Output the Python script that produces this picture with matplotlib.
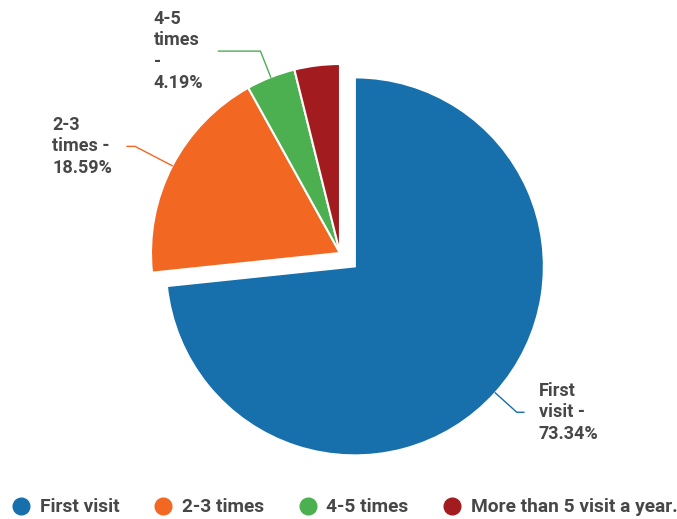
import numpy as np
import matplotlib
matplotlib.use("Agg")
import matplotlib.pyplot as plt
from matplotlib.lines import Line2D

plt.rcParams['font.family'] = ['Roboto', 'DejaVu Sans']

# data
categories = ["First visit", "2-3 times", "4-5 times", "More than 5 visit a year."]
shares = [73.34, 18.59, 4.19, 3.88]
slice_labels = ["First\nvisit -\n73.34%", "2-3\ntimes -\n18.59%", "4-5\ntimes\n-\n4.19%", None]
colors = ["#1770ab", "#f26722", "#4caf50", "#a21c1f"]
text_color = "#474747"

W, H = 677, 519
fig = plt.figure(figsize=(W / 100, H / 100), dpi=100)
ax = fig.add_axes([0, 0, 1, 1])

cx, cy, R = 340, H - 253, 189
wedges, _ = ax.pie(shares, colors=colors, startangle=90, counterclock=False,
                   center=(cx, cy), radius=R, explode=[20, 0, 0, 0],
                   wedgeprops=dict(edgecolor="white", linewidth=1.5))
ax.set_xlim(0, W)
ax.set_ylim(0, H)
ax.set_aspect("equal")
ax.axis("off")

# leader lines: radial extension, horizontal run
leaders = [(29, 7), (42, 8), (28, 42), None]
for w, lab, ld, col in zip(wedges, slice_labels, leaders, colors):
    if lab is None:
        continue
    ext, run = ld
    th = np.deg2rad((w.theta1 + w.theta2) / 2)
    x0, y0 = w.center
    p1 = (x0 + w.r * np.cos(th), y0 + w.r * np.sin(th))
    p2 = (x0 + (w.r + ext) * np.cos(th), y0 + (w.r + ext) * np.sin(th))
    side = 1 if np.cos(th) > 0 else -1
    p3 = (p2[0] + side * run, p2[1])
    ax.plot([p1[0], p2[0], p3[0]], [p1[1], p2[1], p3[1]], color=col, lw=1)
    ax.text(p3[0] + side * 15, p3[1], lab, ha="left" if side > 0 else "right",
            va="center", multialignment="left", fontsize=13, fontweight="bold",
            color=text_color, linespacing=1.25)

handles = [Line2D([], [], marker="o", ls="", color=c, markersize=12) for c in colors]
fig.legend(handles, categories, loc="lower left", bbox_to_anchor=(-0.008, -0.028),
           ncol=4, frameon=False, handlelength=1.0, handletextpad=0.45,
           columnspacing=1.8, prop=dict(size=13.8, weight="bold"),
           labelcolor=text_color)

fig.savefig("out.png", dpi=100)
